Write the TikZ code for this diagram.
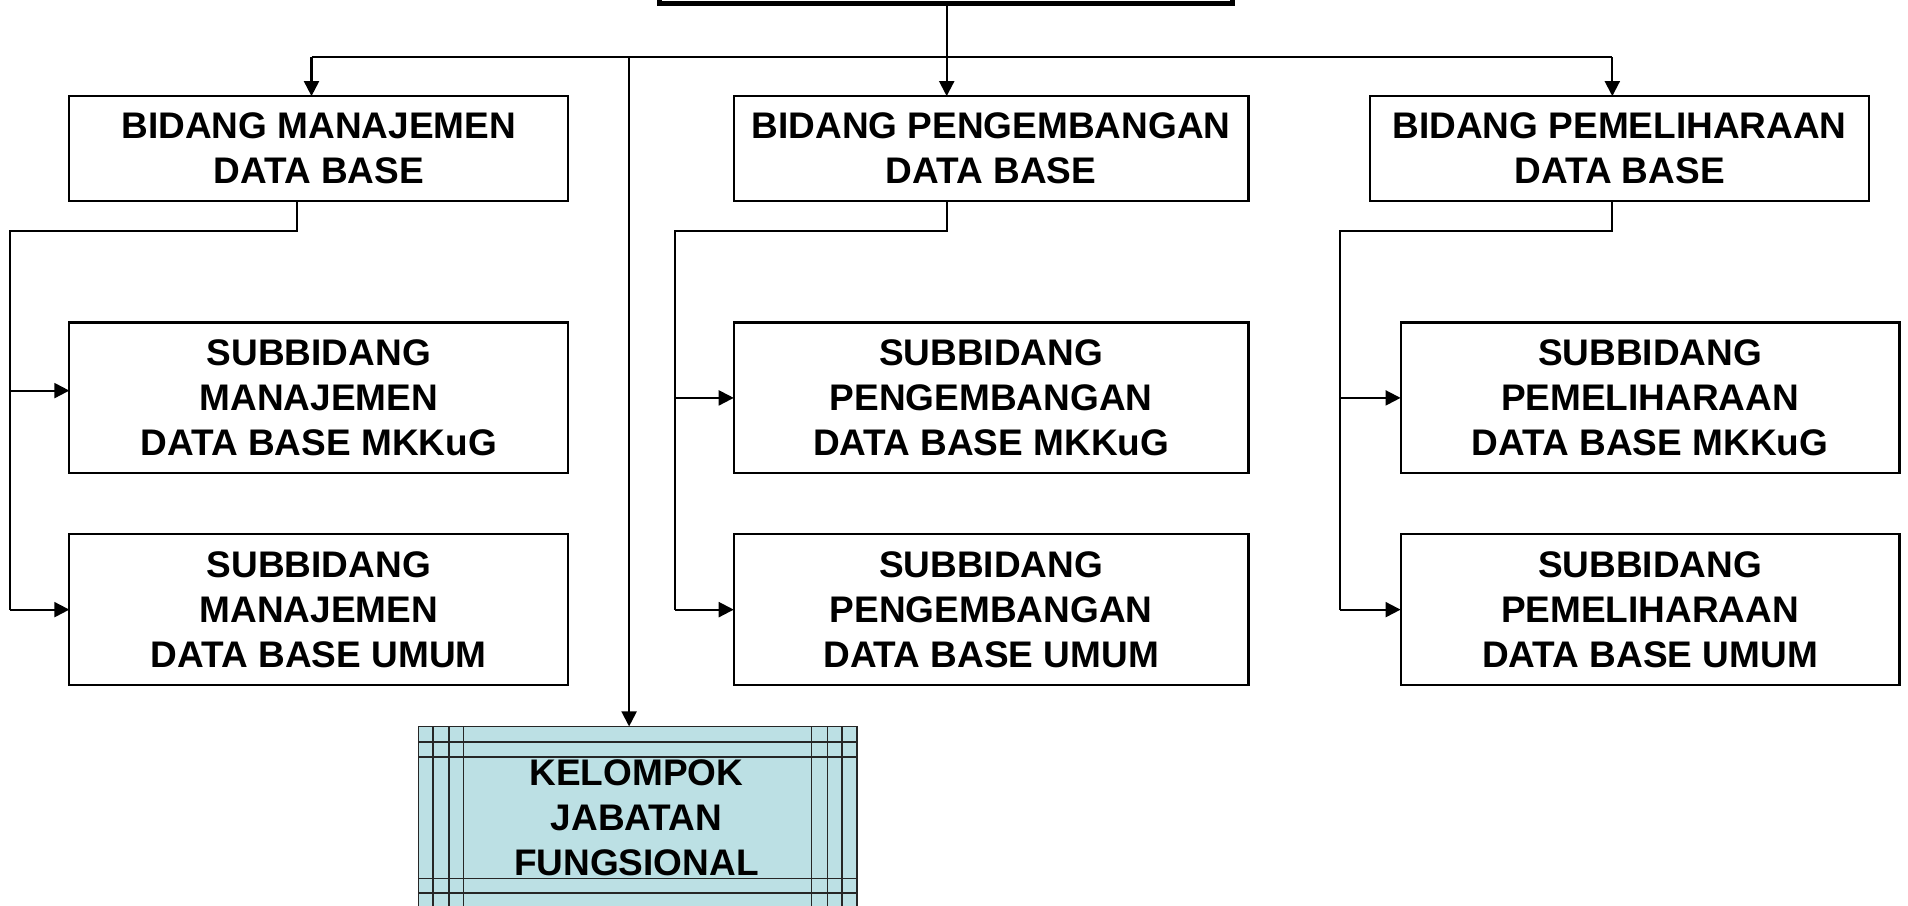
\documentclass[tikz,border=0pt]{standalone}
\usepackage{fontspec}
\setmainfont{Liberation Sans}
\usetikzlibrary{arrows.meta}
\definecolor{kelblue}{RGB}{188,224,228}
\begin{document}
\begin{tikzpicture}[x=0.5pt,y=-0.5pt,
  box/.style={draw, line width=0.85pt, rectangle, inner sep=0pt, outer sep=0pt, align=center,
    font=\fontsize{15.2}{18.4}\selectfont\bfseries},
  txt/.style={inner sep=0pt, align=center, font=\fontsize{15.2}{18.4}\selectfont\bfseries},
  arr/.style={line width=0.85pt, -{Triangle[length=6.2pt,width=6.2pt]}},
  ln/.style={line width=0.85pt},
  grid/.style={line width=0.7pt, draw=black!85}]
\useasboundingbox (0,0) rectangle (1568,744);
\clip (0,0) rectangle (1568,744);

% top box (cut off)
\node[draw, line width=2pt, fill=white, minimum width=235.5pt, minimum height=12pt, inner sep=0pt, outer sep=0pt] (top) at (777.5,-9) {};

% bidang boxes
\node[box, minimum width=205pt, minimum height=43pt] (b1) at (262,122) {BIDANG MANAJEMEN\\DATA BASE};
\node[box, minimum width=211.5pt, minimum height=43pt] (b2) at (814.5,122) {BIDANG PENGEMBANGAN\\DATA BASE};
\node[box, minimum width=205pt, minimum height=43pt] (b3) at (1331,122) {BIDANG PEMELIHARAAN\\DATA BASE};

% subbidang boxes
\node[box, minimum width=205pt, minimum height=62pt] (s11) at (262,327) {SUBBIDANG\\MANAJEMEN\\DATA BASE MKKuG};
\node[box, minimum width=205pt, minimum height=62pt] (s12) at (262,501) {SUBBIDANG\\MANAJEMEN\\DATA BASE UMUM};
\node[box, minimum width=211.5pt, minimum height=62pt] (s21) at (814.5,327) {SUBBIDANG\\PENGEMBANGAN\\DATA BASE MKKuG};
\node[box, minimum width=211.5pt, minimum height=62pt] (s22) at (814.5,501) {SUBBIDANG\\PENGEMBANGAN\\DATA BASE UMUM};
\node[box, minimum width=205pt, minimum height=62pt] (s31) at (1356,327) {SUBBIDANG\\PEMELIHARAAN\\DATA BASE MKKuG};
\node[box, minimum width=205pt, minimum height=62pt] (s32) at (1356,501) {SUBBIDANG\\PEMELIHARAAN\\DATA BASE UMUM};

% kelompok jabatan fungsional
\node[draw=black!85, line width=0.7pt, fill=kelblue, minimum width=180pt, minimum height=81.5pt, inner sep=0pt, outer sep=0pt] (kel) at (524,678.5) {};
\foreach \x in {356,369,381,667,680,692} \draw[grid] (\x,597) -- (\x,760);
\foreach \y in {610,622,722,734} \draw[grid] (344,\y) -- (704,\y);
\node[txt] (keltxt) at (523,672) {KELOMPOK\\JABATAN\\FUNGSIONAL};

% top-level connectors
\coordinate (hl) at (256,47);
\coordinate (hr) at (1325,47);
\coordinate (kj) at (517,47);
\draw[ln] (hl) -- (hr);
\draw[arr] (top.south -| 778,0) -- (778,0 |- b2.north);
\draw[arr] (hl) -- (hl |- b1.north);
\draw[arr] (hr) -- (hr |- b3.north);
\draw[arr] (kj) -- (kj |- kel.north);

% column 1
\coordinate (c1a) at (244,190);
\coordinate (c1b) at (8,190);
\coordinate (a11) at (8,321);
\draw[ln] (c1a |- b1.south) -- (c1a) -- (c1b) -- (c1b |- s12.west);
\draw[arr] (a11) -- (a11 -| s11.west);
\draw[arr] (c1b |- s12.west) -- (s12.west);

% column 2
\coordinate (c2a) at (778,190);
\coordinate (c2b) at (555,190);
\draw[ln] (c2a |- b2.south) -- (c2a) -- (c2b) -- (c2b |- s22.west);
\draw[arr] (c2b |- s21.west) -- (s21.west);
\draw[arr] (c2b |- s22.west) -- (s22.west);

% column 3
\coordinate (c3a) at (1325,190);
\coordinate (c3b) at (1101,190);
\draw[ln] (c3a |- b3.south) -- (c3a) -- (c3b) -- (c3b |- s32.west);
\draw[arr] (c3b |- s31.west) -- (s31.west);
\draw[arr] (c3b |- s32.west) -- (s32.west);
\end{tikzpicture}
\end{document}
